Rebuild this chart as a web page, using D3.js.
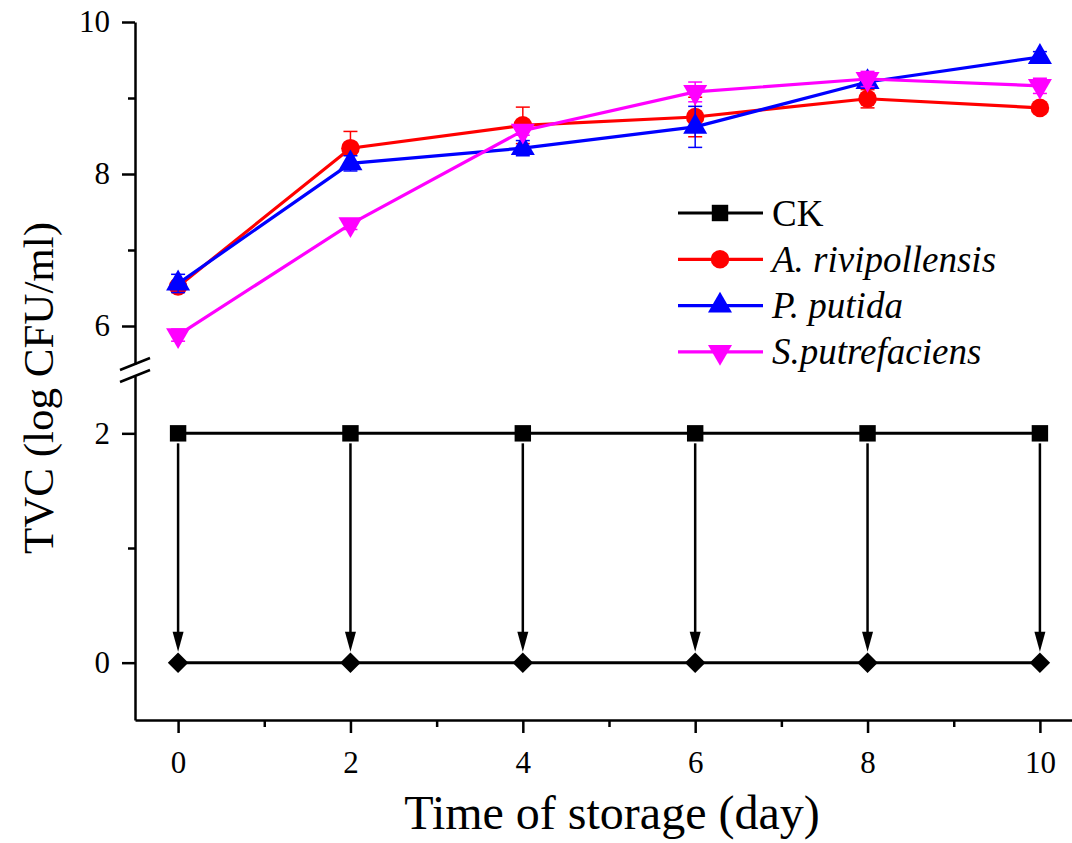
<!DOCTYPE html>
<html>
<head>
<meta charset="utf-8">
<script src="https://cdn.jsdelivr.net/npm/d3@7/dist/d3.min.js"></script>
<style>
  html, body { margin: 0; padding: 0; background: #fff; }
  svg { display: block; font-family: 'Liberation Serif', 'Times New Roman', serif; }
</style>
</head>
<body>
<svg id="chart" width="1072" height="843"></svg>
<script>
// ---- Data ----
const days = [0, 2, 4, 6, 8, 10];
const ckValues = [2, 2, 2, 2, 2, 2];
const ckFloor = [0, 0, 0, 0, 0, 0];
const arivValues = [6.52, 8.34, 8.64, 8.75, 8.99, 8.87];
const arivErr = [0.06, 0.22, 0.24, 0.26, 0.12, 0.05];
const pputValues = [6.56, 8.14, 8.34, 8.62, 9.21, 9.54];
const pputErr = [0.12, 0.10, 0.10, 0.27, 0.06, 0.07];
const sputValues = [5.88, 7.34, 8.57, 9.08, 9.25, 9.16];
const sputErr = [0.08, 0.07, 0.06, 0.13, 0.10, 0.10];
const xTicks = [0, 2, 4, 6, 8, 10];
const xMinor = [1, 3, 5, 7, 9];
const yUpperTicks = [6, 8, 10];
const yUpperMinor = [7, 9];
const yLowerTicks = [0, 2];
const yLowerMinor = [1];

const series = [
  { name: 'A. rivipollensis', values: arivValues, err: arivErr, color: '#ff0000', shape: 'circle' },
  { name: 'P. putida', values: pputValues, err: pputErr, color: '#0000ff', shape: 'up' },
  { name: 'S.putrefaciens', values: sputValues, err: sputErr, color: '#ff00ff', shape: 'down' }
];

const svg = d3.select('#chart');

// ---- Scales (broken y axis) ----
const x = d3.scaleLinear().domain([-0.5, 10.5]).range([135, 1083]);
const yUp = d3.scaleLinear().domain([5.5, 10]).range([364, 22]);
const yLow = d3.scaleLinear().domain([-0.5, 2.5]).range([720, 376]);

function markerPath(shape) {
  if (shape === 'circle') return d3.symbol(d3.symbolCircle, 270)();
  if (shape === 'square') return d3.symbol(d3.symbolSquare, 270)();
  if (shape === 'diamond') return d3.symbol(d3.symbolSquare, 210)();
  return d3.symbol(d3.symbolTriangle, 250)();
}
function markerRotate(shape) {
  if (shape === 'down') return 180;
  if (shape === 'diamond') return 45;
  return 0;
}

// ---- Axes ----
const fmt = d3.format('d');
const axisStyle = sel => {
  sel.selectAll('path, line').attr('stroke', '#000').attr('stroke-width', 2.5);
  sel.selectAll('text').attr('font-size', '31px').attr('fill', '#000')
    .attr('font-family', "'Liberation Serif', 'Times New Roman', serif");
};

svg.append('g').attr('transform', 'translate(135,0)')
  .call(d3.axisLeft(yUp).tickValues(yUpperTicks).tickFormat(fmt).tickSize(13).tickSizeOuter(0).tickPadding(12))
  .call(axisStyle);
svg.append('g').attr('transform', 'translate(135,0)')
  .call(d3.axisLeft(yUp).tickValues(yUpperMinor).tickSize(7).tickFormat(''))
  .call(g => g.select('.domain').remove())
  .call(axisStyle);

svg.append('g').attr('transform', 'translate(135,0)')
  .call(d3.axisLeft(yLow).tickValues(yLowerTicks).tickFormat(fmt).tickSize(13).tickSizeOuter(0).tickPadding(12))
  .call(axisStyle);
svg.append('g').attr('transform', 'translate(135,0)')
  .call(d3.axisLeft(yLow).tickValues(yLowerMinor).tickSize(7).tickFormat(''))
  .call(g => g.select('.domain').remove())
  .call(axisStyle);

svg.append('g').attr('transform', `translate(0,${yLow(-0.5)})`)
  .call(d3.axisBottom(x).tickValues(xTicks).tickFormat(fmt).tickSize(13).tickSizeOuter(0).tickPadding(18))
  .call(axisStyle);
svg.append('g').attr('transform', `translate(0,${yLow(-0.5)})`)
  .call(d3.axisBottom(x).tickValues(xMinor).tickSize(7).tickFormat(''))
  .call(g => g.select('.domain').remove())
  .call(axisStyle);

// ---- Break marks ----
const breakG = svg.append('g').attr('stroke', '#000').attr('stroke-width', 2.5);
[yUp(5.5), yLow(2.5)].forEach(yy => {
  breakG.append('line')
    .attr('x1', 120).attr('y1', yy + 6)
    .attr('x2', 150).attr('y2', yy - 6);
});

// ---- Axis titles ----
svg.append('text')
  .attr('x', 612).attr('y', 829)
  .attr('text-anchor', 'middle')
  .attr('font-size', '48px')
  .text('Time of storage (day)');

svg.append('text')
  .attr('transform', 'translate(38,388) rotate(-90)')
  .attr('text-anchor', 'middle')
  .attr('dominant-baseline', 'central')
  .attr('font-size', '43px')
  .text('TVC (log CFU/ml)');

// ---- CK (lower panel) ----
const lineLow = d3.line().x((d, i) => x(days[i])).y(d => yLow(d));
svg.append('path').datum(ckValues)
  .attr('d', lineLow).attr('fill', 'none').attr('stroke', '#000').attr('stroke-width', 3);
svg.append('path').datum(ckFloor)
  .attr('d', lineLow).attr('fill', 'none').attr('stroke', '#000').attr('stroke-width', 3);

// arrows from CK to zero
const arrows = svg.append('g');
days.forEach((d, i) => {
  const xx = x(d);
  const y0 = yLow(ckValues[i]) + 10;
  const tip = yLow(ckFloor[i]) - 11;
  arrows.append('line')
    .attr('x1', xx).attr('x2', xx)
    .attr('y1', y0).attr('y2', tip - 14)
    .attr('stroke', '#000').attr('stroke-width', 2.5);
  arrows.append('path')
    .attr('d', `M${xx - 5.5},${tip - 20} L${xx + 5.5},${tip - 20} L${xx},${tip} Z`)
    .attr('fill', '#000');
});

svg.append('g').selectAll('path').data(ckValues).join('path')
  .attr('d', markerPath('square'))
  .attr('transform', (d, i) => `translate(${x(days[i])},${yLow(d)})`)
  .attr('fill', '#000');
svg.append('g').selectAll('path').data(ckFloor).join('path')
  .attr('d', markerPath('diamond'))
  .attr('transform', (d, i) => `translate(${x(days[i])},${yLow(d)}) rotate(45)`)
  .attr('fill', '#000');

// ---- Upper panel series ----
const lineUp = d3.line().x((d, i) => x(days[i])).y(d => yUp(d));
series.forEach(s => {
  const g = svg.append('g');
  // error bars
  s.values.forEach((v, i) => {
    const xx = x(days[i]);
    g.append('line')
      .attr('x1', xx).attr('x2', xx)
      .attr('y1', yUp(v - s.err[i])).attr('y2', yUp(v + s.err[i]))
      .attr('stroke', s.color).attr('stroke-width', 1.5);
    [v - s.err[i], v + s.err[i]].forEach(e => {
      g.append('line')
        .attr('x1', xx - 7).attr('x2', xx + 7)
        .attr('y1', yUp(e)).attr('y2', yUp(e))
        .attr('stroke', s.color).attr('stroke-width', 1.5);
    });
  });
  g.append('path').datum(s.values)
    .attr('d', lineUp).attr('fill', 'none')
    .attr('stroke', s.color).attr('stroke-width', 3.2);
  g.selectAll('.mk').data(s.values).join('path')
    .attr('class', 'mk')
    .attr('d', markerPath(s.shape))
    .attr('transform', (d, i) => `translate(${x(days[i])},${yUp(d)}) rotate(${markerRotate(s.shape)})`)
    .attr('fill', s.color);
});

// ---- Legend ----
const legendItems = [
  { name: 'CK', color: '#000', shape: 'square', italic: false },
  ...series.map(s => ({ name: s.name, color: s.color, shape: s.shape, italic: true }))
];
const legend = svg.append('g');
legendItems.forEach((it, i) => {
  const ly = 213 + i * 46.3;
  legend.append('line')
    .attr('x1', 678).attr('x2', 763)
    .attr('y1', ly).attr('y2', ly)
    .attr('stroke', it.color).attr('stroke-width', 3.2);
  legend.append('path')
    .attr('d', markerPath(it.shape))
    .attr('transform', `translate(720,${ly}) rotate(${markerRotate(it.shape)})`)
    .attr('fill', it.color);
  legend.append('text')
    .attr('x', 772).attr('y', ly)
    .attr('dominant-baseline', 'central')
    .attr('font-size', '37px')
    .attr('font-style', it.italic ? 'italic' : 'normal')
    .text(it.name);
});
</script>
</body>
</html>
